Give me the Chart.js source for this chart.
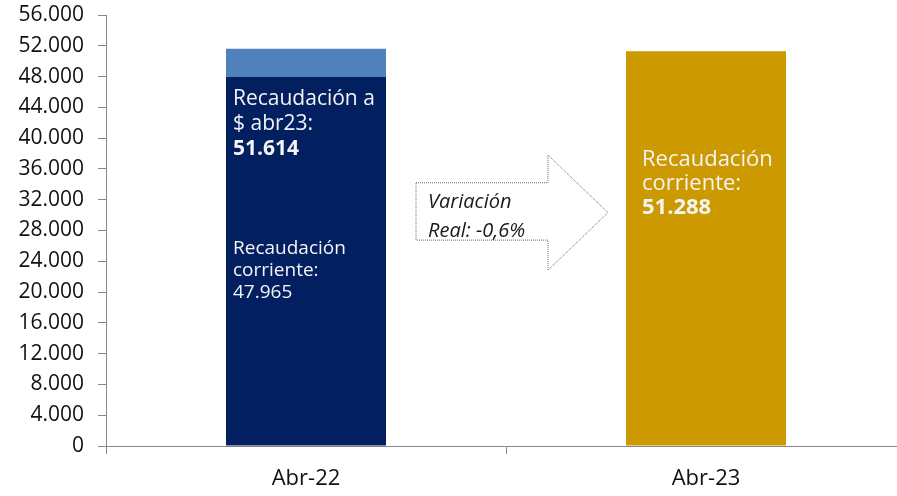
<!DOCTYPE html>
<html>
<head>
<meta charset="utf-8">
<script src="https://cdn.jsdelivr.net/npm/chart.js@4.4.0/dist/chart.umd.min.js"></script>
<style>
  html, body { margin: 0; padding: 0; background: #fff; overflow: hidden; }
  #wrap { width: 897px; height: 496px; overflow: hidden; }
</style>
</head>
<body>
<div id="wrap"><canvas id="chart" width="920" height="496"></canvas></div>
<script>
// values (millones de $)
const categories = ["Abr-22", "Abr-23"];
const corriente = [47965, 51288];
const ajusteReal = [51614 - 47965, 0]; // top slice on Abr-22 that brings it to $ abr23
const yTicks = [0, 4000, 8000, 12000, 16000, 20000, 24000, 28000, 32000, 36000, 40000, 44000, 48000, 52000, 56000];
const variacion = "-0,6%";

const NAVY = "#022060";
const LIGHT = "#4f81bd";
const GOLD = "#cc9a00";
const AXIS = "#868686";
const FONT = "'Open Sans', sans-serif";

const fmt = v => String(v).replace(/\B(?=(\d{3})+(?!\d))/g, ".");

// writes the text blocks inside the bars and the arrow between them
const overlay = {
  id: "overlay",
  afterDatasetsDraw(chart) {
    const ctx = chart.ctx;
    const x = chart.scales.x, y = chart.scales.y;
    const bars = chart.getDatasetMeta(0).data;
    const b0 = bars[0], b1 = bars[1];

    const lines = (arr, left, top, step, size) => {
      arr.forEach((l, i) => {
        ctx.font = (l.bold ? "bold " : "") + size + "px " + FONT;
        ctx.fillText(l.t, left, top + i * step);
      });
    };

    ctx.save();
    ctx.fillStyle = "#f4f4f4";
    ctx.textBaseline = "middle";
    ctx.textAlign = "left";
    const l0 = b0.x - b0.width / 2 + 7;
    lines([
      { t: "Recaudación a" },
      { t: "$ abr23:" },
      { t: fmt(corriente[0] + ajusteReal[0]), bold: true }
    ], l0, b0.y + 22, 25, 21);
    lines([
      { t: "Recaudación" },
      { t: "corriente:" },
      { t: fmt(corriente[0]) }
    ], l0, b0.y + 172, 22, 19);
    const l1 = b1.x - b1.width / 2 + 16;
    lines([
      { t: "Recaudación" },
      { t: "corriente:" },
      { t: fmt(corriente[1]), bold: true }
    ], l1, b1.y + 108, 24, 22);

    // arrow
    const px = v => x.getPixelForValue(0) + v * (x.getPixelForValue(1) - x.getPixelForValue(0));
    const bl = px(0.275), br = px(0.605), tip = px(0.755);
    const bt = y.getPixelForValue(34200), bb = y.getPixelForValue(26750);
    const ht = y.getPixelForValue(37800), hb = y.getPixelForValue(22850);
    const my = (ht + hb) / 2;
    ctx.beginPath();
    ctx.moveTo(bl, bt);
    ctx.lineTo(br, bt);
    ctx.lineTo(br, ht);
    ctx.lineTo(tip, my);
    ctx.lineTo(br, hb);
    ctx.lineTo(br, bb);
    ctx.lineTo(bl, bb);
    ctx.closePath();
    ctx.fillStyle = "#fff";
    ctx.fill();
    ctx.setLineDash([1, 1]);
    ctx.strokeStyle = "#6a6a6a";
    ctx.lineWidth = 1;
    ctx.stroke();
    ctx.setLineDash([]);
    ctx.fillStyle = "#1a1a1a";
    ctx.font = "italic 20px " + FONT;
    ctx.fillText("Variación", bl + 12, bt + 20);
    ctx.fillText("Real: " + variacion, bl + 12, bt + 49);
    ctx.restore();
  }
};

new Chart(document.getElementById("chart"), {
  type: "bar",
  data: {
    labels: categories,
    datasets: [
      {
        label: "Recaudación corriente",
        data: corriente,
        backgroundColor: [NAVY, GOLD],
        barPercentage: 0.4,
        categoryPercentage: 1
      },
      {
        label: "Recaudación a $ abr23",
        data: ajusteReal,
        backgroundColor: LIGHT,
        barPercentage: 0.4,
        categoryPercentage: 1
      }
    ]
  },
  options: {
    responsive: false,
    animation: false,
    layout: { padding: { top: 15, right: 14, left: 0, bottom: 0 } },
    plugins: { legend: { display: false }, tooltip: { enabled: false } },
    scales: {
      x: {
        stacked: true,
        grid: { drawOnChartArea: false, drawTicks: true, tickLength: 8, color: AXIS, offset: true },
        border: { color: AXIS },
        ticks: { color: "#111", font: { family: FONT, size: 22 }, padding: 12 },
        afterFit: s => { s.height = 50; }
      },
      y: {
        stacked: true,
        min: 0,
        max: 56000,
        afterBuildTicks: s => { s.ticks = yTicks.map(v => ({ value: v })); },
        grid: { drawOnChartArea: false, drawTicks: true, tickLength: 8, color: AXIS },
        border: { color: AXIS },
        ticks: { color: "#111", font: { family: FONT, size: 21 }, padding: 14, callback: v => fmt(v) },
        afterFit: s => { s.width = 106; s.paddingTop = 0; s.paddingBottom = 0; }
      }
    }
  },
  plugins: [overlay]
});
</script>
</body>
</html>
